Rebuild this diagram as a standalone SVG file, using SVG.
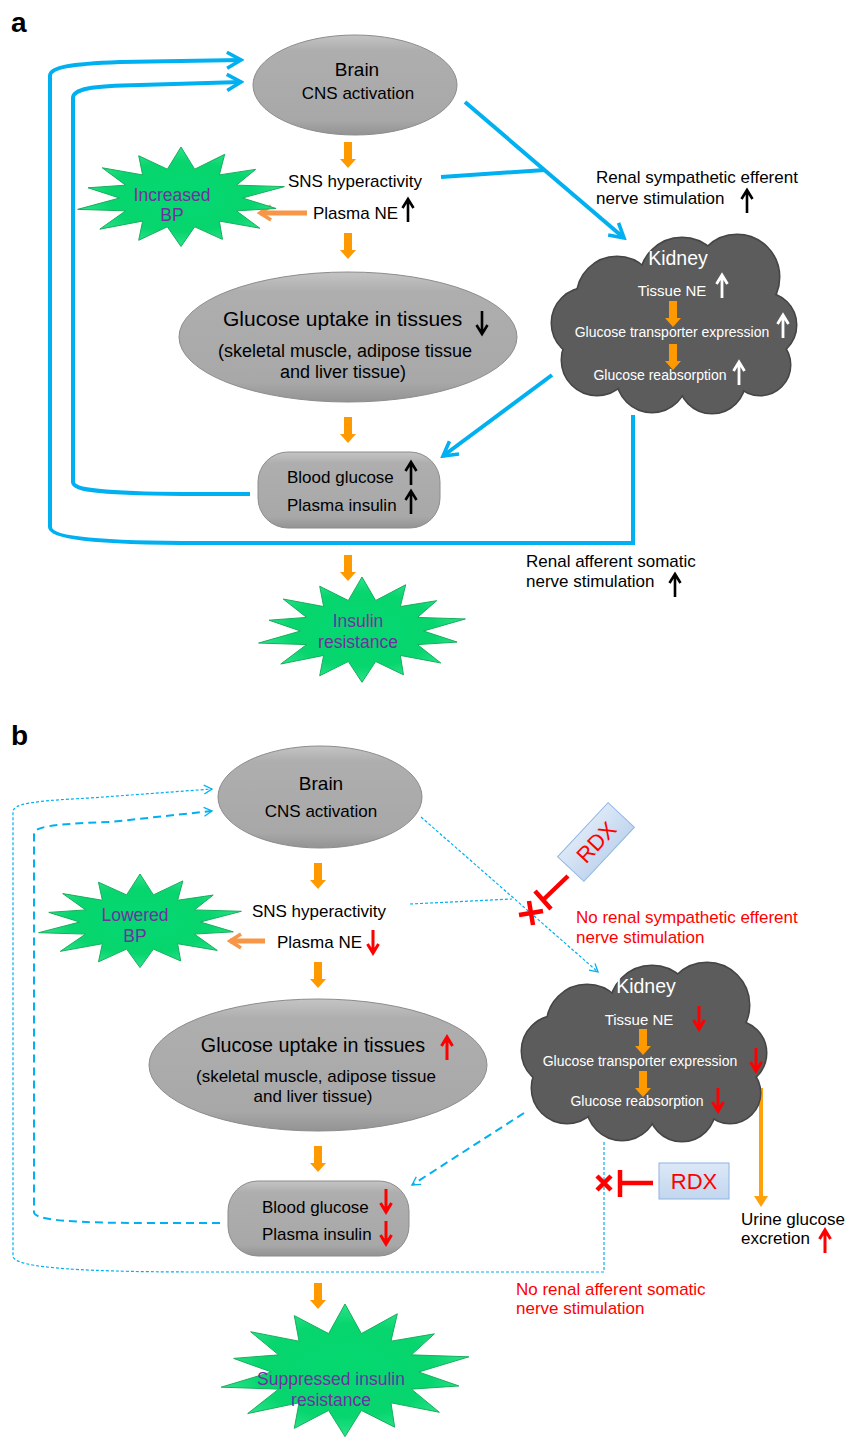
<svg xmlns="http://www.w3.org/2000/svg" width="859" height="1438" viewBox="0 0 859 1438">
<style>
text{font-family:"Liberation Sans",Arial,sans-serif;fill:#000}
.c{text-anchor:middle}
.t17{font-size:17px}
.lab{font-size:28px;font-weight:bold}
.pur{fill:#7030A0;font-size:17.5px}
.wt{fill:#fff}
.red{fill:#FF0000}
.blue{fill:none;stroke:#00B0F0;stroke-width:4}
.bdot{fill:none;stroke:#00B0F0;stroke-width:1.2;stroke-dasharray:3 2}
.bdash{fill:none;stroke:#00B0F0;stroke-width:2;stroke-dasharray:8 5}
.oa{fill:#FF9900}
.star{fill:url(#gStar);stroke:#17AE5C;stroke-width:1}
.ell{fill:url(#gGray);stroke:#8C8C8C;stroke-width:1}
.lo{fill:none;stroke:#F79646;stroke-width:5}
.inh{fill:none;stroke:#FF0000;stroke-width:4.5}
</style>
<defs>
<linearGradient id="gGray" x1="0" y1="0" x2="0" y2="1">
<stop offset="0" stop-color="#C4C4C4"/><stop offset="0.15" stop-color="#AEAEAE"/><stop offset="0.85" stop-color="#A8A8A8"/><stop offset="1" stop-color="#939393"/>
</linearGradient>
<radialGradient id="gStar" cx="0.5" cy="0.5" r="0.5">
<stop offset="0" stop-color="#05D870"/><stop offset="0.7" stop-color="#07D56E"/><stop offset="1" stop-color="#2BE38A"/>
</radialGradient>
<linearGradient id="gRdx" x1="0" y1="0" x2="0" y2="1">
<stop offset="0" stop-color="#DCE8F7"/><stop offset="1" stop-color="#C2D6EE"/>
</linearGradient>
<marker id="mA" markerUnits="userSpaceOnUse" viewBox="0 0 20 20" markerWidth="20" markerHeight="20" refX="17" refY="10" orient="auto">
<path d="M3,2 L17,10 L3,18" fill="none" stroke="#00B0F0" stroke-width="3.6"/>
</marker>
<marker id="mB" markerUnits="userSpaceOnUse" viewBox="0 0 12 12" markerWidth="12" markerHeight="12" refX="10" refY="6" orient="auto">
<path d="M2,1.5 L10,6 L2,10.5" fill="none" stroke="#00B0F0" stroke-width="1.3"/>
</marker>
<marker id="mL" markerUnits="userSpaceOnUse" viewBox="0 0 20 20" markerWidth="20" markerHeight="20" refX="16" refY="10" orient="auto">
<path d="M5,3 L16,10 L5,17" fill="none" stroke="#F79646" stroke-width="3.6"/>
</marker>
<path id="oa" d="M-4,0H4V17H8L0,26L-8,17H-4Z"/>
<path id="up" d="M0,0V-23M-5.5,-14L0,-23L5.5,-14" fill="none"/>
<path id="dn" d="M0,0V23M-5.5,14L0,23L5.5,14" fill="none"/>
<polygon id="star" vector-effect="non-scaling-stroke" points="0,-1 0.129,-0.565 0.412,-0.856 0.362,-0.453 0.704,-0.561 0.523,-0.252 0.975,-0.223 0.58,0 0.897,0.205 0.523,0.252 0.743,0.592 0.362,0.453 0.391,0.811 0.129,0.565 0,0.95 -0.129,0.565 -0.399,0.829 -0.362,0.453 -0.766,0.611 -0.523,0.252 -0.975,0.223 -0.58,0 -0.877,-0.2 -0.523,-0.252 -0.743,-0.592 -0.362,-0.453 -0.399,-0.829 -0.129,-0.565"/>
<g id="cloud">
<circle cx="65" cy="62" r="40"/><circle cx="130" cy="45" r="42"/><circle cx="185" cy="42" r="42"/>
<circle cx="212" cy="90" r="32"/><circle cx="208" cy="130" r="30"/><circle cx="160" cy="145" r="33"/>
<circle cx="100" cy="142" r="35"/><circle cx="45" cy="125" r="35"/><circle cx="35" cy="88" r="35"/>
<ellipse cx="122" cy="95" rx="95" ry="55"/>
</g>
</defs>

<rect width="859" height="1438" fill="#fff"/>

<!-- ===== Panel a ===== -->
<text id="label-a" class="lab" x="11" y="32">a</text>

<g id="connectors-a">
<path class="blue" marker-end="url(#mA)" d="M633,415 L633,543 L200,543 C90,543 50,537 50,527 L50,76 C50,67 70,64 120,62 L241,60"/>
<path class="blue" marker-end="url(#mA)" d="M250,494 L200,494 C100,494 73,490 73,482 L73,98 C73,89 90,86 140,85 L241,82"/>
<path class="blue" marker-end="url(#mA)" d="M465,102 L624,238"/>
<path class="blue" d="M441,177 L545,170"/>
<path class="blue" marker-end="url(#mA)" d="M552,375 L443,456"/>
<use href="#oa" class="oa" x="348" y="142"/>
<use href="#oa" class="oa" x="348" y="233"/>
<use href="#oa" class="oa" x="348" y="417"/>
<use href="#oa" class="oa" x="348" y="555"/>
<path class="lo" marker-end="url(#mL)" d="M307,213 L260,213"/>
</g>

<g id="brain-a">
<ellipse class="ell" cx="355" cy="85" rx="102" ry="50"/>
<text class="c" x="357" y="76" font-size="19">Brain</text>
<text class="c t17" x="358" y="99">CNS activation</text>
</g>

<g id="sns-a">
<text class="c t17" x="355" y="187">SNS hyperactivity</text>
<text class="t17" x="313" y="219">Plasma NE</text>
<use href="#up" x="408" y="222" stroke="#000" stroke-width="2.6"/>
</g>

<g id="bp-a">
<use href="#star" class="star" transform="translate(181,198) scale(106,51)"/>
<text class="c pur" x="172" y="201">Increased</text>
<text class="c pur" x="172" y="221">BP</text>
</g>

<g id="glucose-a">
<ellipse class="ell" cx="348" cy="337" rx="169" ry="65"/>
<text x="223" y="326" font-size="21">Glucose uptake in tissues</text>
<use href="#dn" x="482" y="311" stroke="#000" stroke-width="2.6"/>
<text class="c" x="345" y="357" font-size="18">(skeletal muscle, adipose tissue</text>
<text class="c" x="343" y="378" font-size="18">and liver tissue)</text>
</g>

<g id="blood-a">
<rect class="ell" x="258" y="452" width="182" height="76" rx="30"/>
<text class="t17" x="287" y="483">Blood glucose</text>
<text class="t17" x="287" y="511">Plasma insulin</text>
<use href="#up" x="411" y="485" stroke="#000" stroke-width="2.6"/>
<use href="#up" x="411" y="514" stroke="#000" stroke-width="2.6"/>
</g>

<g id="ir-a">
<use href="#star" class="star" transform="translate(362,631) scale(106,54)"/>
<text class="c pur" x="358" y="627">Insulin</text>
<text class="c pur" x="358" y="648">resistance</text>
</g>

<g id="kidney-a">
<use href="#cloud" x="552" y="235" fill="#454545" stroke="#454545" stroke-width="3"/>
<use href="#cloud" x="552" y="235" fill="#5C5C5C"/>
<text class="c wt" x="678" y="265" font-size="19.5">Kidney</text>
<text class="c wt" x="672" y="296" font-size="15">Tissue NE</text>
<use href="#up" x="722" y="298" stroke="#fff" stroke-width="2.8"/>
<use href="#oa" class="oa" x="673" y="301"/>
<text class="c wt" x="672" y="337" font-size="14">Glucose transporter expression</text>
<use href="#up" x="783" y="338" stroke="#fff" stroke-width="2.8"/>
<use href="#oa" class="oa" x="673" y="344"/>
<text class="c wt" x="660" y="380" font-size="14">Glucose reabsorption</text>
<use href="#up" x="739" y="385" stroke="#fff" stroke-width="2.8"/>
</g>

<g id="renal-eff-a">
<text class="t17" x="596" y="183">Renal sympathetic efferent</text>
<text class="t17" x="596" y="204">nerve stimulation</text>
<use href="#up" x="747" y="213" stroke="#000" stroke-width="2.6"/>
</g>

<g id="renal-aff-a">
<text class="t17" x="526" y="567">Renal afferent somatic</text>
<text class="t17" x="526" y="587">nerve stimulation</text>
<use href="#up" x="675" y="597" stroke="#000" stroke-width="2.6"/>
</g>

<!-- ===== Panel b ===== -->
<text id="label-b" class="lab" x="11" y="745">b</text>

<g id="connectors-b">
<path class="bdot" marker-end="url(#mB)" d="M604,1142 L604,1272 L200,1272 C60,1272 13,1266 13,1256 L13,812 C13,804 30,801 90,798 L212,789"/>
<path class="bdash" marker-end="url(#mB)" d="M220,1223 L150,1223 C60,1223 34,1219 34,1212 L34,834 C34,827 50,824 110,822 L212,811"/>
<path class="bdot" marker-end="url(#mB)" d="M421,817 L598,972"/>
<path class="bdot" d="M410,904 L512,899"/>
<path class="bdash" marker-end="url(#mB)" d="M524,1113 L412,1185"/>
<use href="#oa" class="oa" x="318" y="863"/>
<use href="#oa" class="oa" x="318" y="962"/>
<use href="#oa" class="oa" x="318" y="1146"/>
<use href="#oa" class="oa" x="318" y="1283"/>
<path class="lo" marker-end="url(#mL)" d="M265,941 L230,941"/>
<path d="M761,1088 V1198" stroke="#FFA10A" stroke-width="4" fill="none"/>
<path d="M754,1196 L768,1196 L761,1207 Z" fill="#FFA10A"/>
</g>

<g id="brain-b">
<ellipse class="ell" cx="320" cy="797" rx="102" ry="51"/>
<text class="c" x="321" y="790" font-size="19">Brain</text>
<text class="c t17" x="321" y="817">CNS activation</text>
</g>

<g id="sns-b">
<text class="c t17" x="319" y="917">SNS hyperactivity</text>
<text class="t17" x="277" y="948">Plasma NE</text>
<use href="#dn" x="373" y="930" stroke="#FF0000" stroke-width="3"/>
</g>

<g id="bp-b">
<use href="#star" class="star" transform="translate(140,922) scale(104,48)"/>
<text class="c pur" x="135" y="921">Lowered</text>
<text class="c pur" x="135" y="942">BP</text>
</g>

<g id="glucose-b">
<ellipse class="ell" cx="318" cy="1065" rx="169" ry="66"/>
<text class="c" x="313" y="1052" font-size="19.7">Glucose uptake in tissues</text>
<use href="#up" x="447" y="1060" stroke="#FF0000" stroke-width="3"/>
<text class="c" x="316" y="1082" font-size="17">(skeletal muscle, adipose tissue</text>
<text class="c" x="313" y="1102" font-size="17">and liver tissue)</text>
</g>

<g id="blood-b">
<rect class="ell" x="228" y="1181" width="181" height="75" rx="30"/>
<text class="t17" x="262" y="1213">Blood glucose</text>
<text class="t17" x="262" y="1240">Plasma insulin</text>
<use href="#dn" x="386" y="1189" stroke="#FF0000" stroke-width="3"/>
<use href="#dn" x="386" y="1221" stroke="#FF0000" stroke-width="3"/>
</g>

<g id="sir-b">
<use href="#star" class="star" transform="translate(345,1372) scale(127,68)"/>
<text class="c pur" x="331" y="1385">Suppressed insulin</text>
<text class="c pur" x="331" y="1406">resistance</text>
</g>

<g id="kidney-b">
<use href="#cloud" x="522" y="963" fill="#454545" stroke="#454545" stroke-width="3"/>
<use href="#cloud" x="522" y="963" fill="#5C5C5C"/>
<text class="c wt" x="646" y="993" font-size="19.5">Kidney</text>
<text class="c wt" x="639" y="1025" font-size="15">Tissue NE</text>
<use href="#dn" x="699" y="1006" stroke="#FF0000" stroke-width="3"/>
<use href="#oa" class="oa" x="643" y="1029"/>
<text class="c wt" x="640" y="1066" font-size="14">Glucose transporter expression</text>
<use href="#dn" x="756" y="1048" stroke="#FF0000" stroke-width="3"/>
<use href="#oa" class="oa" x="643" y="1071"/>
<text class="c wt" x="637" y="1106" font-size="14">Glucose reabsorption</text>
<use href="#dn" x="718" y="1088" stroke="#FF0000" stroke-width="3"/>
</g>

<g id="rdx-1">
<g transform="rotate(-47 596 842)">
<rect x="559" y="824" width="74" height="36" fill="url(#gRdx)" stroke="#8EB4E3" stroke-width="1"/>
<text class="c red" x="596" y="850" font-size="22">RDX</text>
</g>
<path class="inh" d="M568,876 L543,900 M535,891 L551,909"/>
<path class="inh" d="M519,915 L543,911 M529,901 L533,925"/>
</g>

<g id="no-eff-b">
<text class="t17 red" x="576" y="923">No renal sympathetic efferent</text>
<text class="t17 red" x="576" y="943">nerve stimulation</text>
</g>

<g id="rdx-2">
<rect x="659" y="1163" width="70" height="36" fill="url(#gRdx)" stroke="#8EB4E3" stroke-width="1"/>
<text class="c red" x="694" y="1189" font-size="22">RDX</text>
<path class="inh" d="M653,1183 L620,1183 M620,1170 L620,1197"/>
<path class="inh" stroke-width="5" d="M597,1176 L611,1190 M611,1176 L597,1190"/>
</g>

<g id="urine-b">
<text class="t17" x="741" y="1225">Urine glucose</text>
<text class="t17" x="741" y="1244">excretion</text>
<use href="#up" x="825" y="1253" stroke="#FF0000" stroke-width="3"/>
</g>

<g id="no-aff-b">
<text class="t17 red" x="516" y="1295">No renal afferent somatic</text>
<text class="t17 red" x="516" y="1314">nerve stimulation</text>
</g>
</svg>
